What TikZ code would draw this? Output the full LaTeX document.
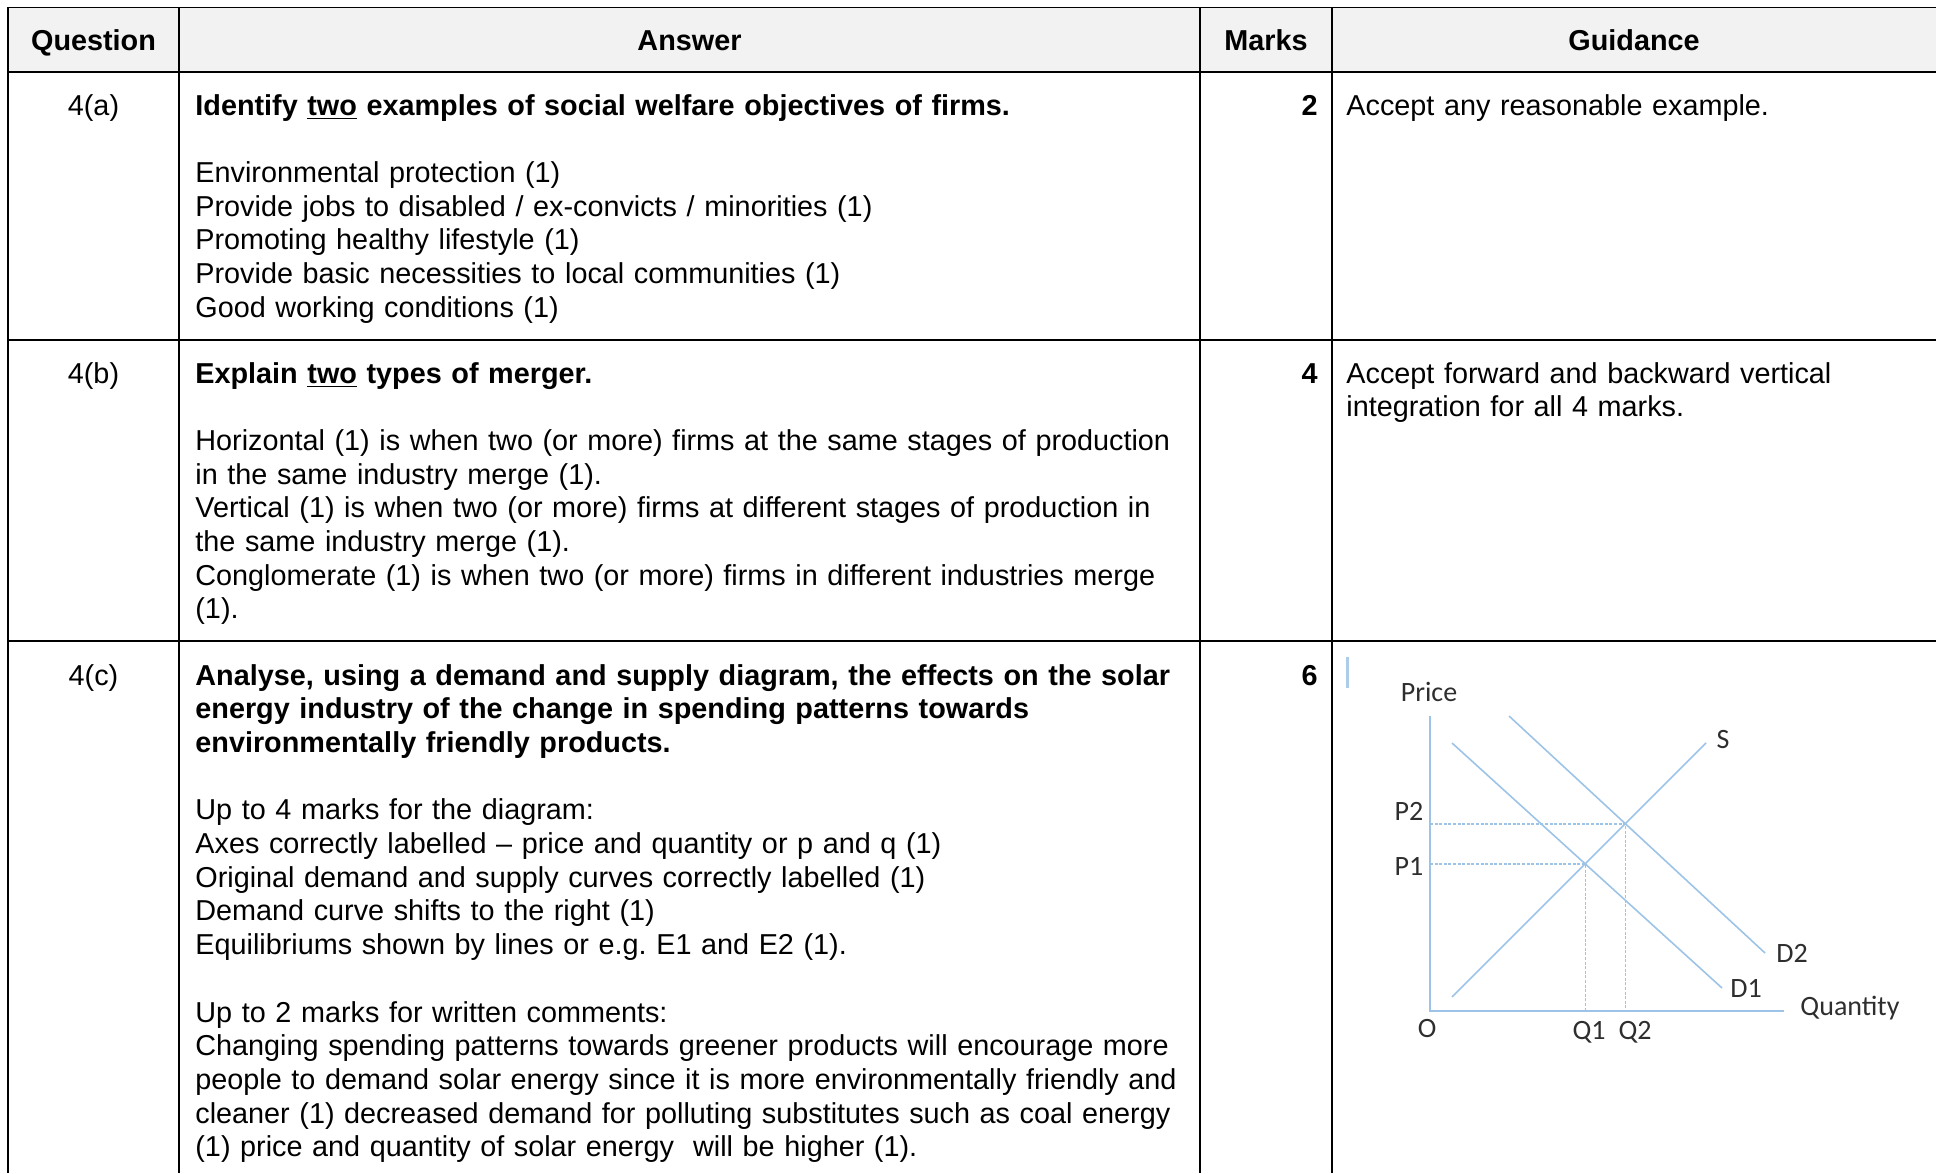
\documentclass[tikz,border=0pt]{standalone}
\usepackage{fontspec}
\setmainfont{Liberation Sans}
\newfontfamily\graphfont{Carlito}
\definecolor{headgray}{HTML}{F2F2F2}
\definecolor{curveblue}{HTML}{9DC3E6}
\definecolor{labelgray}{HTML}{2E2E2E}
\newcommand{\cellfont}{\fontsize{14.4}{16.85}\selectfont}

\begin{document}
\begin{tikzpicture}[x=0.5pt,y=-0.5pt,
    cell/.style={anchor=base west, inner sep=0pt, text width=560pt, align=left, font=\cellfont},
    head/.style={anchor=base, inner sep=0pt, font=\cellfont\bfseries},
    qnum/.style={anchor=base, inner sep=0pt, font=\cellfont},
    marknum/.style={anchor=base east, inner sep=0pt, font=\cellfont\bfseries},
    tablerule/.style={line width=0.8pt},
    axisline/.style={curveblue, line width=1.1pt},
    supplydemand/.style={curveblue, line width=0.8pt},
    dropline/.style={curveblue, line width=0.75pt, dash pattern=on 1.5pt off 0.8pt},
    graphlabel/.style={inner sep=0pt, text=labelgray, font=\graphfont\fontsize{14}{16}\selectfont}]
\useasboundingbox (0,0) rectangle (1936,1173);

% table frame
\fill[headgray] (8,7) rectangle (1936,72);
\draw[line width=0.5pt] (8,7) -- (1936,7);
\draw[line width=1.1pt] (8,72) -- (1936,72);
\draw[tablerule] (8,340) -- (1936,340);
\draw[tablerule] (8,641) -- (1936,641);
\foreach \x in {8,179,1200,1332}
    \draw[tablerule] (\x,7) -- (\x,1173);

% header
\node[head] (hquestion) at (93.5,50) {Question};
\node[head] (hanswer) at (689.5,50) {Answer};
\node[head] (hmarks) at (1266,50) {Marks};
\node[head] (hguidance) at (1634,50) {Guidance};

% 4(a)
\node[qnum] (qa) at (93.5,115) {4(a)};
\node[cell] (ansa) at (195,115) {\textbf{Identify \underline{two} examples of social welfare objectives of firms.}\\[16.85pt]
    Environmental protection (1)\\
    Provide jobs to disabled / ex-convicts / minorities (1)\\
    Promoting healthy lifestyle (1)\\
    Provide basic necessities to local communities (1)\\
    Good working conditions (1)};
\node[marknum] (marka) at (1318,115) {2};
\node[cell, text width=290pt] (guidea) at (1346,115) {Accept any reasonable example.};

% 4(b)
\node[qnum] (qb) at (93.5,383) {4(b)};
\node[cell] (ansb) at (195,383) {\textbf{Explain \underline{two} types of merger.}\\[16.85pt]
    Horizontal (1) is when two (or more) firms at the same stages of production\\
    in the same industry merge (1).\\
    Vertical (1) is when two (or more) firms at different stages of production in\\
    the same industry merge (1).\\
    Conglomerate (1) is when two (or more) firms in different industries merge\\
    (1).};
\node[marknum] (markb) at (1318,383) {4};
\node[cell, text width=290pt] (guideb) at (1346,383) {Accept forward and backward vertical\\
    integration for all 4 marks.};

% 4(c)
\node[qnum] (qc) at (93.5,685) {4(c)};
\node[cell] (ansc) at (195,685) {\textbf{Analyse, using a demand and supply diagram, the effects on the solar\\
    energy industry of the change in spending patterns towards\\
    environmentally friendly products.}\\[16.85pt]
    Up to 4 marks for the diagram:\\
    Axes correctly labelled -- price and quantity or p and q (1)\\
    Original demand and supply curves correctly labelled (1)\\
    Demand curve shifts to the right (1)\\
    Equilibriums shown by lines or e.g.\ E1 and E2 (1).\\[16.85pt]
    Up to 2 marks for written comments:\\
    Changing spending patterns towards greener products will encourage more\\
    people to demand solar energy since it is more environmentally friendly and\\
    cleaner (1) decreased demand for polluting substitutes such as coal energy\\
    (1) price and quantity of solar energy\ \ will be higher (1).};
\node[marknum] (markc) at (1318,685) {6};

% demand and supply diagram
\draw[curveblue!85, line width=1.5pt] (1347,657) -- (1347,688);
\coordinate (ytop) at (1430,716);
\coordinate (origin) at (1430,1011);
\coordinate (xend) at (1784,1011);
\coordinate (d1a) at (1452,743);
\coordinate (d1b) at (1722,988);
\coordinate (d2a) at (1509,716);
\coordinate (d2b) at (1765,953);
\coordinate (sa) at (1452,997);
\coordinate (sb) at (1706,743);
\coordinate (e1) at (intersection of d1a--d1b and sa--sb);
\coordinate (e2) at (intersection of d2a--d2b and sa--sb);
\draw[axisline] (ytop) -- (origin) -- (xend);
\draw[supplydemand] (d1a) -- (d1b);
\draw[supplydemand] (d2a) -- (d2b);
\draw[supplydemand] (sa) -- (sb);
\draw[dropline] (e1 -| origin) -- (e1) -- (e1 |- origin);
\draw[dropline] (e2 -| origin) -- (e2) -- (e2 |- origin);
\node[graphlabel] (price) at (1429,692) {Price};
\node[graphlabel] (quantity) at (1850,1008) {Quantity};
\node[graphlabel] (olabel) at (1427,1028) {O};
\node[graphlabel] (q1) at (1589,1032) {Q1};
\node[graphlabel] (q2) at (1635,1032) {Q2};
\node[graphlabel] (p1) at (1409,866) {P1};
\node[graphlabel] (p2) at (1409,811) {P2};
\node[graphlabel] (slabel) at (1723,739) {S};
\node[graphlabel] (d1label) at (1746,988) {D1};
\node[graphlabel] (d2label) at (1792,953) {D2};
\end{tikzpicture}
\end{document}
